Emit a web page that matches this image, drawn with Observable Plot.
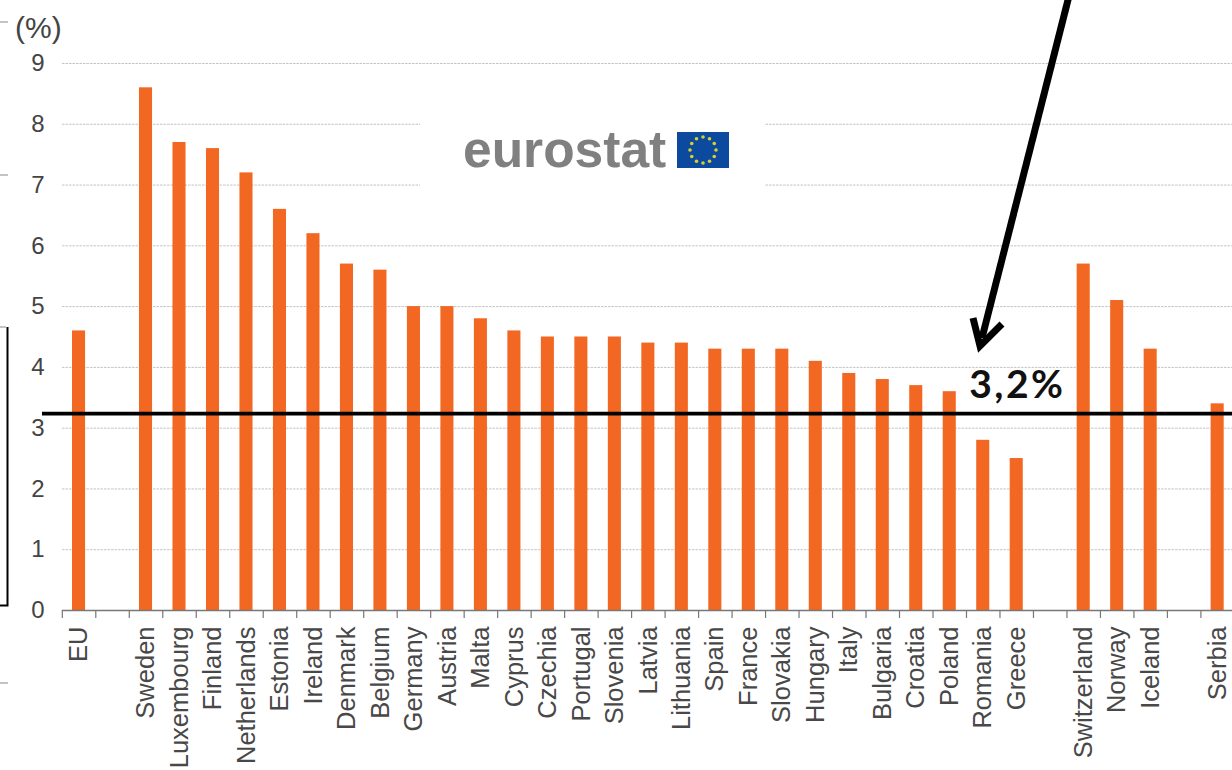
<!DOCTYPE html>
<html><head><meta charset="utf-8">
<script src="https://cdn.jsdelivr.net/npm/d3@7"></script>
<script src="https://cdn.jsdelivr.net/npm/@observablehq/plot@0.6"></script>
<style>html,body{margin:0;padding:0;background:#fff;overflow:hidden}svg{display:block}</style>
</head><body><div id="chart"></div>
<script>
const categories = ["EU","Sweden","Luxembourg","Finland","Netherlands","Estonia","Ireland","Denmark","Belgium","Germany","Austria","Malta","Cyprus","Czechia","Portugal","Slovenia","Latvia","Lithuania","Spain","France","Slovakia","Hungary","Italy","Bulgaria","Croatia","Poland","Romania","Greece","Switzerland","Norway","Iceland","Serbia"];
const values = [4.6,8.6,7.7,7.6,7.2,6.6,6.2,5.7,5.6,5.0,5.0,4.8,4.6,4.5,4.5,4.5,4.4,4.4,4.3,4.3,4.3,4.1,3.9,3.8,3.7,3.6,2.8,2.5,5.7,5.1,4.3,3.4];
const domain = ["EU","gap1",...categories.slice(1,28),"gap2",...categories.slice(28,31),"gap3","Serbia"];
const yTicks = [0,1,2,3,4,5,6,7,8,9];
const gridTicks = [1,2,3,4,5,6,7,8,9];
const referenceValue = 3.24;
const referenceLabel = "3,2%";
const table = categories.map((c,i)=>({country:c,value:values[i]}));
const xRange = [61.8,1233.9];
const step = (xRange[1]-xRange[0])/domain.length;
const font = '"Liberation Sans",Arial,sans-serif';

const plot = Plot.plot({
  width:1232,height:770,marginLeft:62,marginRight:0,marginTop:63,marginBottom:160,
  style:{fontFamily:font,background:"#fff"},
  x:{domain,range:xRange,round:false,paddingInner:0.61,paddingOuter:0.305,align:0.5,label:null},
  y:{domain:[0,9],range:[610,63],label:null},
  marks:[
    Plot.ruleY(gridTicks,{stroke:"#c4c4c4",strokeWidth:1,strokeDasharray:"2.5,1"}),
    Plot.barY(table,{x:"country",y:"value",fill:"#f26722"}),
    Plot.ruleY([0],{stroke:"#777",strokeWidth:1.5}),
    Plot.axisX({ticks:domain,tickSize:8,dx:-step/2,tickFormat:()=>"",stroke:"#777",strokeWidth:1.2,label:null}),
    Plot.axisX({ticks:categories,tickSize:0,tickPadding:16,tickRotate:-90,fontSize:25.5,fill:"#484848",label:null,lineAnchor:"middle"}),
    Plot.axisY({ticks:yTicks,tickSize:0,tickPadding:18,fontSize:24,fill:"#444",label:null}),
    Plot.ruleY([referenceValue],{x1:{value:()=>42,scale:null},x2:{value:()=>1232,scale:null},stroke:"#000",strokeWidth:3.6}),
    Plot.text([referenceLabel],{x:()=>"Romania",y:()=>referenceValue,dx:-14,dy:-28,textAnchor:"start",fontSize:39,fontWeight:700,fontFamily:"Lato",fill:"#111"})
  ]
});
document.getElementById("chart").append(plot);

const svg = d3.select(plot);
svg.selectAll('g[aria-label="text"] text').style("letter-spacing","2.5px");
const root = svg.append("g").attr("text-anchor","start");
// unit label
root.append("text").attr("x",15).attr("y",38).attr("font-size",30).attr("font-family",font).attr("fill","#444").text("(%)");
// logo
const logo = root.append("g");
logo.append("rect").attr("x",420).attr("y",108).attr("width",345).attr("height",84).attr("fill","#fff");
logo.append("text").attr("x",463).attr("y",167).attr("font-size",51.5).attr("font-weight",700).attr("font-family",font).attr("fill","#808080").text("eurostat");
logo.append("rect").attr("x",677).attr("y",132).attr("width",52).attr("height",36).attr("fill","#0b4a9e");
d3.range(12).forEach(i=>{
  const a=i*Math.PI/6;
  logo.append("circle").attr("cx",703+13*Math.sin(a)).attr("cy",150-13*Math.cos(a)).attr("r",1.8).attr("fill","#d9cf2e");
});
// arrow
const arrow = root.append("g").attr("fill","none").attr("stroke","#000").attr("stroke-width",7);
arrow.append("path").attr("d","M1069,-4L982,338");
arrow.append("path").attr("d","M973,318L980,346L1002,324").attr("stroke-linejoin","miter");
// slide fragments at the left edge
const frag = root.append("g");
frag.append("path").attr("d","M0,605.5H7.5V327").attr("fill","none").attr("stroke","#000").attr("stroke-width",2);
frag.append("line").attr("x1",0).attr("x2",6).attr("y1",327).attr("y2",327).attr("stroke","#c4c4c4").attr("stroke-width",2);
[22,175,683].forEach(y=>frag.append("line").attr("x1",0).attr("x2",8).attr("y1",y).attr("y2",y).attr("stroke","#c4c4c4").attr("stroke-width",2));
</script></body></html>
